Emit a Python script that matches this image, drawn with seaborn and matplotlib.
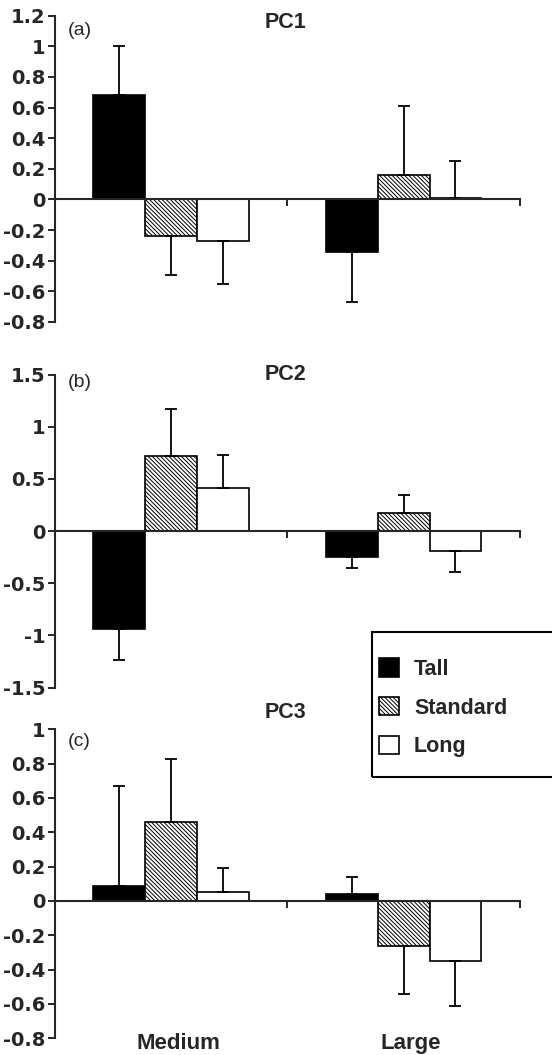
import numpy as np
import pandas as pd
import matplotlib
matplotlib.use("Agg")
import matplotlib.pyplot as plt
import seaborn as sns
from matplotlib.patches import Patch, Rectangle
from matplotlib.transforms import blended_transform_factory

# ---------------- data ----------------
sizes = ["Medium", "Large"]
types = ["Tall", "Standard", "Long"]
panel_titles = ["PC1", "PC2", "PC3"]
panel_tags = ["(a)", "(b)", "(c)"]

pc1_medium = [0.68, -0.24, -0.27]
pc1_large = [-0.34, 0.16, 0.01]
pc1_se_medium = [0.32, 0.25, 0.28]
pc1_se_large = [0.33, 0.45, 0.24]

pc2_medium = [-0.94, 0.72, 0.41]
pc2_large = [-0.25, 0.17, -0.19]
pc2_se_medium = [0.30, 0.45, 0.32]
pc2_se_large = [0.10, 0.18, 0.20]

pc3_medium = [0.09, 0.46, 0.05]
pc3_large = [0.04, -0.26, -0.35]
pc3_se_medium = [0.58, 0.37, 0.14]
pc3_se_large = [0.10, 0.28, 0.26]

pc1_ticks = [-0.8, -0.6, -0.4, -0.2, 0, 0.2, 0.4, 0.6, 0.8, 1, 1.2]
pc1_ticklabels = ["-0.8", "-0.6", "-0.4", "-0.2", "0", "0.2", "0.4", "0.6", "0.8", "1", "1.2"]
pc2_ticks = [-1.5, -1, -0.5, 0, 0.5, 1, 1.5]
pc2_ticklabels = ["-1.5", "-1", "-0.5", "0", "0.5", "1", "1.5"]
pc3_ticks = [-0.8, -0.6, -0.4, -0.2, 0, 0.2, 0.4, 0.6, 0.8, 1]
pc3_ticklabels = ["-0.8", "-0.6", "-0.4", "-0.2", "0", "0.2", "0.4", "0.6", "0.8", "1"]

# ---------------- style ----------------
sns.set_style("ticks")
plt.rcParams["axes.unicode_minus"] = False
plt.rcParams["hatch.linewidth"] = 0.7
plt.rcParams["font.family"] = ["Liberation Sans", "DejaVu Sans"]

HATCH = "\\" * 8
palette = {"Tall": "black", "Standard": "white", "Long": "white"}

fig = plt.figure(figsize=(5.52, 10.55), dpi=100)

positions = [
    [0.0996, 0.6948, 0.842, 0.2903],
    [0.0996, 0.3483, 0.842, 0.2967],
    [0.0996, 0.0158, 0.842, 0.2929],
]
panels = [
    (pc1_medium, pc1_large, pc1_se_medium, pc1_se_large, pc1_ticks, pc1_ticklabels),
    (pc2_medium, pc2_large, pc2_se_medium, pc2_se_large, pc2_ticks, pc2_ticklabels),
    (pc3_medium, pc3_large, pc3_se_medium, pc3_se_large, pc3_ticks, pc3_ticklabels),
]
title_y = [0.979, 1.0, 1.056]
tag_y = [0.953, 0.973, 0.96]

for k, (pos, panel) in enumerate(zip(positions, panels)):
    med, lar, se_med, se_lar, ticks, ticklabels = panel
    ax = fig.add_axes(pos)
    df = pd.DataFrame({
        "size": np.repeat(sizes, len(types)),
        "type": types * len(sizes),
        "value": list(med) + list(lar),
        "se": list(se_med) + list(se_lar),
    })
    sns.barplot(data=df, x="size", y="value", hue="type", order=sizes,
                hue_order=types, palette=palette, width=0.67, saturation=1,
                edgecolor="black", linewidth=1.2, errorbar=None,
                legend=False, ax=ax)

    for i, (t, cont) in enumerate(zip(types, ax.containers)):
        sub = df[df["type"] == t].set_index("size").loc[sizes]
        for bar, val, se in zip(cont, sub["value"], sub["se"]):
            if t == "Standard":
                bar.set_hatch(HATCH)
            x = bar.get_x() + bar.get_width() / 2
            yerr = [[0], [se]] if val >= 0 else [[se], [0]]
            ax.errorbar([x], [val], yerr=yerr, fmt="none", ecolor="black",
                        elinewidth=1.3, capsize=4, capthick=1.3, zorder=1)

    ax.set_xlim(-0.5, 1.5)
    ax.set_ylim(ticks[0], ticks[-1])
    ax.set_yticks(ticks)
    ax.set_yticklabels(ticklabels, family="DejaVu Sans", fontweight="bold",
                       fontsize=14)
    ax.set_xticks([0.5, 1.5])
    ax.set_xticklabels([])
    ax.set_xlabel("")
    ax.set_ylabel("")
    ax.spines["top"].set_visible(False)
    ax.spines["right"].set_visible(False)
    ax.spines["bottom"].set_position(("data", 0))
    for s in ("left", "bottom"):
        ax.spines[s].set_linewidth(1.5)
    ax.tick_params(axis="both", direction="out", length=5, width=1.4, pad=2)
    ax.patch.set_alpha(0)

    ax.text(0.495, title_y[k], panel_titles[k], transform=ax.transAxes,
            ha="center", va="center", fontsize=15.5, fontweight="bold")
    ax.text(0.028, tag_y[k], panel_tags[k], transform=ax.transAxes,
            ha="left", va="center", fontsize=14)

    if k == 2:
        tr = blended_transform_factory(ax.transData, ax.transAxes)
        for j, s in enumerate(sizes):
            ax.text(j + 0.03, -0.018, s, transform=tr, ha="center", va="center",
                    fontsize=16, fontweight="bold")

# legend
handles = [
    Patch(facecolor="black", edgecolor="black", linewidth=1.2),
    Patch(facecolor="white", edgecolor="black", hatch=HATCH, linewidth=1.2),
    Patch(facecolor="white", edgecolor="black", linewidth=1.2),
]
fig.legend(handles, types, loc="upper left",
           bbox_to_anchor=(379 / 552, (1055 - 658) / 1055),
           frameon=False, borderpad=0, borderaxespad=0,
           handlelength=0.95, handleheight=0.95, handletextpad=0.68,
           labelspacing=0.8, prop={"family": "Liberation Sans",
                                   "weight": "bold", "size": 15.5})
fig.add_artist(Rectangle((372 / 552, (1055 - 776.7) / 1055), 0.5,
                         (776.7 - 632) / 1055, transform=fig.transFigure,
                         fill=False, edgecolor="black", linewidth=1.5,
                         clip_on=False))

fig.savefig("out.png", dpi=100)
